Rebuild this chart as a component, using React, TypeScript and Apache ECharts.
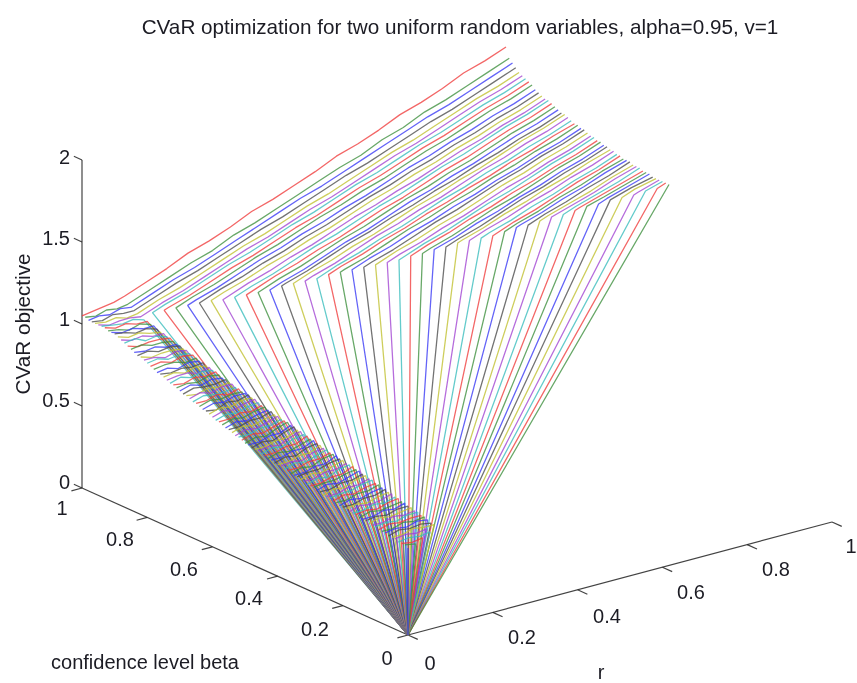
import React, { useEffect, useRef } from "react";
import * as echarts from "echarts";

const titleText = "CVaR optimization for two uniform random variables, alpha=0.95, v=1";
const lineColors = ["#f03c3c", "#3d8f3d", "#3838f5", "#4c4c4c", "#c0c030", "#a244d2", "#38bcbc"];
const axisColor = "#222222";
const textColor = "#1c1c24";

const zTicks = [0, 0.5, 1, 1.5, 2];
const rTicks = [0, 0.2, 0.4, 0.6, 0.8, 1];
const betaTicks = [0, 0.2, 0.4, 0.6, 0.8, 1];

// beta level of each curve, in hundredths
const betaLevels = [
  100, 99, 98, 97, 96, 95, 94, 93, 92, 91, 90, 89, 88, 87, 86, 85, 84, 83, 82, 81,
  80, 79, 78, 77, 76, 75, 74, 73, 72, 71, 70, 69, 68, 67, 66, 65, 64, 63, 62, 61,
  60, 59, 58, 57, 56, 55, 54, 53, 52, 51, 50, 49, 48, 47, 46, 45, 44, 43, 42, 41,
  40, 39, 38, 37, 36, 35, 34, 33, 32, 31, 30, 29, 28, 27, 26, 25, 24, 23, 22, 21,
  20, 19, 18, 17, 16, 15, 14, 13, 12, 11, 10, 9, 8, 7, 6, 5, 4, 3, 2, 1, 0,
];

const leftR = [0, 0.025, 0.05, 0.075, 0.1];
const rightR = [0.15, 0.2, 0.25, 0.3, 0.35, 0.4, 0.45, 0.5, 0.55, 0.6, 0.65, 0.7, 0.75, 0.8, 0.85, 0.9, 0.95, 1];
const continuousCurves = 6;

// objective (hundredths) on the short piece that starts at r = 0
const leftZ = [
  [105, 106, 107, 108, 110], [105, 104, 106, 105, 106], [104, 105, 104, 106, 105], [104, 103, 105, 104, 104],
  [104, 103, 104, 102, 103], [104, 102, 103, 103, 102], [104, 103, 102, 103, 101], [104, 102, 103, 101, 101],
  [103, 102, 100, 102, 100], [103, 101, 102, 100, 100], [103, 102, 100, 101, 99], [102, 100, 101, 99, 98],
  [101, 99, 100, 98, 98], [100, 101, 98, 99, 97], [99, 97, 98, 98, 97], [98, 99, 97, 97, 96],
  [97, 96, 97, 95, 95], [96, 97, 95, 96, 95], [96, 94, 95, 95, 94], [95, 95, 93, 95, 94],
  [94, 95, 93, 94, 93], [93, 94, 92, 94, 93], [92, 93, 93, 91, 92], [91, 92, 90, 92, 91],
  [91, 90, 91, 90, 91], [90, 91, 89, 91, 90], [89, 90, 90, 88, 90], [88, 90, 88, 90, 89],
  [88, 87, 89, 88, 89], [87, 88, 87, 89, 88], [86, 88, 86, 88, 87], [85, 87, 86, 86, 87],
  [85, 84, 86, 85, 86], [84, 86, 84, 86, 86], [83, 85, 84, 84, 85], [83, 83, 85, 83, 85],
  [82, 84, 83, 84, 84], [81, 83, 82, 84, 84], [81, 80, 83, 82, 84], [80, 82, 81, 83, 83],
  [79, 81, 80, 82, 83], [78, 80, 79, 81, 82], [78, 78, 80, 79, 81], [77, 79, 78, 80, 81],
  [76, 78, 77, 79, 80], [76, 76, 78, 78, 80], [75, 77, 76, 78, 79], [74, 76, 75, 77, 79],
  [74, 74, 76, 76, 78], [73, 75, 74, 76, 78], [72, 74, 73, 76, 78], [72, 72, 74, 74, 77],
  [71, 73, 72, 75, 77], [71, 71, 73, 73, 76], [71, 72, 71, 74, 76], [70, 72, 71, 74, 75],
  [70, 70, 72, 72, 75], [69, 71, 70, 72, 74], [69, 69, 71, 71, 74], [68, 70, 69, 72, 73],
  [68, 68, 70, 70, 73], [68, 69, 68, 71, 72], [67, 69, 68, 70, 72], [67, 67, 69, 69, 71],
  [66, 68, 67, 70, 71], [66, 66, 68, 68, 71], [66, 67, 67, 69, 70], [65, 67, 66, 68, 70],
  [65, 65, 67, 67, 69], [64, 66, 65, 68, 69], [64, 64, 66, 66, 69], [64, 65, 65, 67, 68],
  [63, 65, 64, 66, 68], [63, 63, 65, 65, 67], [62, 64, 63, 66, 67], [62, 62, 64, 64, 66],
  [62, 63, 63, 65, 66], [61, 63, 62, 64, 65], [61, 61, 63, 63, 65], [60, 62, 61, 63, 64],
  [60, 60, 62, 62, 64], [60, 61, 60, 62, 63], [59, 61, 60, 61, 63], [59, 59, 61, 60, 62],
  [59, 60, 59, 61, 62], [58, 60, 59, 60, 61], [58, 58, 60, 59, 61], [58, 59, 58, 60, 60],
  [57, 59, 58, 59, 60], [57, 57, 59, 58, 59], [57, 58, 57, 59, 59], [56, 58, 57, 58, 58],
  [56, 56, 58, 57, 58], [56, 57, 56, 58, 57], [55, 57, 56, 57, 56], [55, 55, 57, 56, 56],
  [55, 56, 55, 56], [54, 55, 54, 55], [54, 53, 54], [54, 53], [53],
];

// r (hundredths) at which the long piece resumes, from the 7th curve on
const kneeR = [
  12, 14, 16, 18, 20, 22, 24, 26, 28, 30, 32, 34, 36, 38, 40, 42, 44, 46, 48, 50, 52, 54, 56, 58,
  60, 62, 64, 66, 68, 70, 72, 74, 76, 78, 80, 82, 84, 86, 88, 90, 92, 94, 96, 98, 100,
];

// objective (hundredths) on the long piece ending at r = 1
const rightZ = [
  [115, 120, 126, 130, 135, 141, 145, 150, 155, 161, 165, 170, 176, 180, 185, 191, 195, 200],
  [111, 116, 121, 125, 131, 135, 140, 145, 150, 155, 159, 165, 169, 175, 179, 184, 189, 194],
  [110, 115, 119, 124, 129, 134, 139, 144, 148, 153, 158, 163, 168, 173, 177, 182, 187, 192],
  [109, 114, 118, 123, 128, 133, 137, 142, 147, 152, 156, 161, 166, 171, 175, 180, 185, 190],
  [108, 112, 117, 122, 127, 131, 136, 141, 145, 150, 155, 160, 164, 169, 174, 179, 183, 188],
  [107, 111, 116, 121, 126, 130, 135, 140, 144, 149, 154, 159, 163, 168, 173, 178, 182, 187],
  [104, 107, 111, 116, 121, 125, 130, 135, 139, 144, 149, 153, 158, 163, 167, 172, 177, 181, 186],
  [105, 106, 110, 115, 120, 124, 129, 134, 138, 143, 148, 152, 157, 162, 166, 171, 176, 180, 185],
  [106, 110, 114, 119, 124, 128, 133, 138, 142, 147, 151, 156, 161, 165, 170, 175, 179, 184],
  [107, 109, 113, 118, 123, 127, 132, 136, 141, 145, 150, 155, 159, 164, 168, 173, 177, 182],
  [108, 113, 117, 122, 126, 131, 135, 140, 145, 149, 154, 158, 163, 167, 172, 176, 181],
  [109, 112, 116, 121, 125, 130, 134, 139, 144, 148, 153, 157, 162, 166, 171, 175, 180],
  [109, 110, 115, 119, 124, 128, 133, 138, 142, 147, 151, 156, 161, 165, 170, 174, 179],
  [110, 114, 118, 123, 128, 132, 137, 142, 146, 151, 156, 160, 165, 170, 174, 179],
  [111, 113, 118, 122, 127, 131, 136, 141, 145, 150, 155, 159, 164, 169, 173, 178],
  [112, 117, 121, 126, 131, 135, 140, 145, 149, 154, 158, 163, 168, 172, 177],
  [113, 116, 120, 125, 130, 134, 139, 144, 148, 153, 157, 162, 167, 171, 176],
  [115, 116, 120, 125, 130, 134, 139, 143, 148, 152, 157, 161, 166, 170, 175],
  [116, 120, 124, 129, 133, 138, 143, 147, 152, 156, 161, 166, 170, 175],
  [117, 119, 123, 128, 133, 137, 142, 146, 151, 156, 160, 165, 169, 174],
  [118, 123, 127, 132, 136, 141, 146, 150, 155, 159, 164, 168, 173],
  [120, 123, 127, 132, 136, 141, 145, 150, 154, 159, 163, 168, 172],
  [121, 122, 126, 131, 136, 140, 145, 149, 154, 158, 163, 167, 172],
  [122, 126, 130, 135, 139, 144, 148, 153, 157, 162, 166, 171],
  [123, 125, 129, 134, 139, 143, 148, 153, 157, 162, 166, 171],
  [124, 129, 133, 138, 142, 147, 152, 156, 161, 165, 170],
  [125, 128, 132, 137, 141, 146, 151, 155, 160, 164, 169],
  [126, 127, 132, 136, 141, 146, 150, 155, 160, 164, 169],
  [128, 132, 136, 141, 145, 150, 154, 159, 163, 168],
  [129, 131, 135, 140, 145, 149, 154, 159, 163, 168],
  [131, 135, 140, 144, 149, 153, 158, 162, 167],
  [132, 135, 139, 144, 149, 153, 158, 162, 167],
  [134, 135, 139, 144, 148, 153, 157, 162, 166],
  [135, 139, 143, 148, 152, 157, 161, 166],
  [136, 138, 142, 147, 151, 156, 160, 165],
  [137, 142, 146, 151, 156, 160, 165],
  [139, 142, 146, 151, 155, 160, 164],
  [141, 142, 146, 151, 155, 160, 164],
  [142, 146, 150, 155, 159, 164],
  [144, 146, 150, 154, 159, 163],
  [146, 150, 154, 159, 163],
  [147, 150, 154, 158, 163],
  [149, 150, 154, 158, 162],
  [151, 154, 158, 162],
  [152, 154, 158, 162],
  [154, 158, 161],
  [155, 158, 161],
  [156, 157, 161],
  [158, 161],
  [159, 161],
  [161],
];

// oblique view of the (r, beta, objective) box on a page-sized value grid
const project = (r: number, beta: number, z: number) => [
  408 + 424 * r - 326 * beta,
  635 - 113 * r - 147 * beta - 164 * z,
];

function curvePoints(i: number) {
  const beta = betaLevels[i] / 100;
  const pts: number[][] = leftZ[i].map((z, k) => project(leftR[k], beta, z / 100));
  if (i >= continuousCurves) pts.push(project(0, 0, 0));
  const row = rightZ[i];
  if (row) {
    if (i < continuousCurves) {
      row.forEach((z, k) => pts.push(project(rightR[k], beta, z / 100)));
    } else {
      const tail = rightR.slice(rightR.length - (row.length - 1));
      pts.push(project(kneeR[i - continuousCurves] / 100, beta, row[0] / 100));
      tail.forEach((r, k) => pts.push(project(r, beta, row[k + 1] / 100)));
    }
  }
  return pts;
}

function axisSeries(data: number[][]) {
  return {
    type: "line",
    data,
    showSymbol: false,
    silent: true,
    clip: false,
    lineStyle: { color: axisColor, width: 1.2, opacity: 0.85 },
    z: 1,
  };
}

const rTickLabels = ["0", "0.2", "0.4", "0.6", "0.8", "1"];
const rLabelX = [430, 522, 607, 691, 776, 851];
const rLabelY = [663, 637, 616, 592, 569, 546];
const betaTickLabels = ["0", "0.2", "0.4", "0.6", "0.8", "1"];
const betaLabelX = [387, 315, 249, 184, 120, 62];
const betaLabelY = [658, 629, 598, 569, 539, 508];
const zTickLabels = ["0", "0.5", "1", "1.5", "2"];
const zLabelY = [482, 400, 319, 238, 157];

const FONT = '20px "Liberation Sans"';

function label(text: string, x: number, y: number, align = "center", font = FONT) {
  return {
    type: "text",
    x,
    y,
    silent: true,
    style: { text, x: 0, y: 0, font, fill: textColor, textAlign: align, textVerticalAlign: "middle" },
  };
}

export default function App() {
  const ref = useRef<HTMLDivElement>(null);
  useEffect(() => {
    const chart = echarts.init(ref.current!, undefined, { renderer: "svg" });
    const axes: any[] = [
      axisSeries([project(0, 1, 0), project(0, 1, 2)]),
      axisSeries([project(0, 0, 0), project(0, 1, 0)]),
      axisSeries([project(0, 0, 0), project(1, 0, 0)]),
    ];
    zTicks.forEach((t) => axes.push(axisSeries([project(0, 1, t), project(0, 1.025, t)])));
    betaTicks.forEach((t) => axes.push(axisSeries([project(0, t, 0), project(-0.025, t, 0)])));
    rTicks.forEach((t) => axes.push(axisSeries([project(t, 0, 0), project(t, -0.03, 0)])));
    const curves = betaLevels.map((_, i) => ({
      type: "line",
      data: curvePoints(i),
      showSymbol: false,
      silent: true,
      clip: false,
      lineStyle: { color: lineColors[i % lineColors.length], width: 1.3, opacity: 0.78 },
      z: 2,
    }));
    chart.setOption({
      animation: false,
      backgroundColor: "#ffffff",
      title: {
        text: titleText,
        left: 455,
        top: 11,
        textAlign: "center",
        textStyle: { fontFamily: "Liberation Sans", fontSize: 20.7, fontWeight: "normal", color: textColor },
      },
      grid: { left: 0, right: 0, top: 0, bottom: 0 },
      xAxis: { type: "value", min: 0, max: 857, show: false },
      yAxis: { type: "value", min: 0, max: 683, inverse: true, show: false },
      series: [...axes, ...curves],
      graphic: [
        ...rTickLabels.map((t, i) => label(t, rLabelX[i], rLabelY[i])),
        ...betaTickLabels.map((t, i) => label(t, betaLabelX[i], betaLabelY[i])),
        ...zTickLabels.map((t, i) => label(t, 70, zLabelY[i], "right")),
        label("confidence level beta", 145, 662),
        label("r", 601, 672),
        { ...label("CVaR objective", 22, 324, "center", '20.7px "Liberation Sans"'), rotation: Math.PI / 2 },
      ],
    });
    return () => chart.dispose();
  }, []);
  return (
    <div
      ref={ref}
      style={{ position: "fixed", left: 0, top: 0, width: 857, height: 683, filter: "blur(0.35px)" }}
    />
  );
}
